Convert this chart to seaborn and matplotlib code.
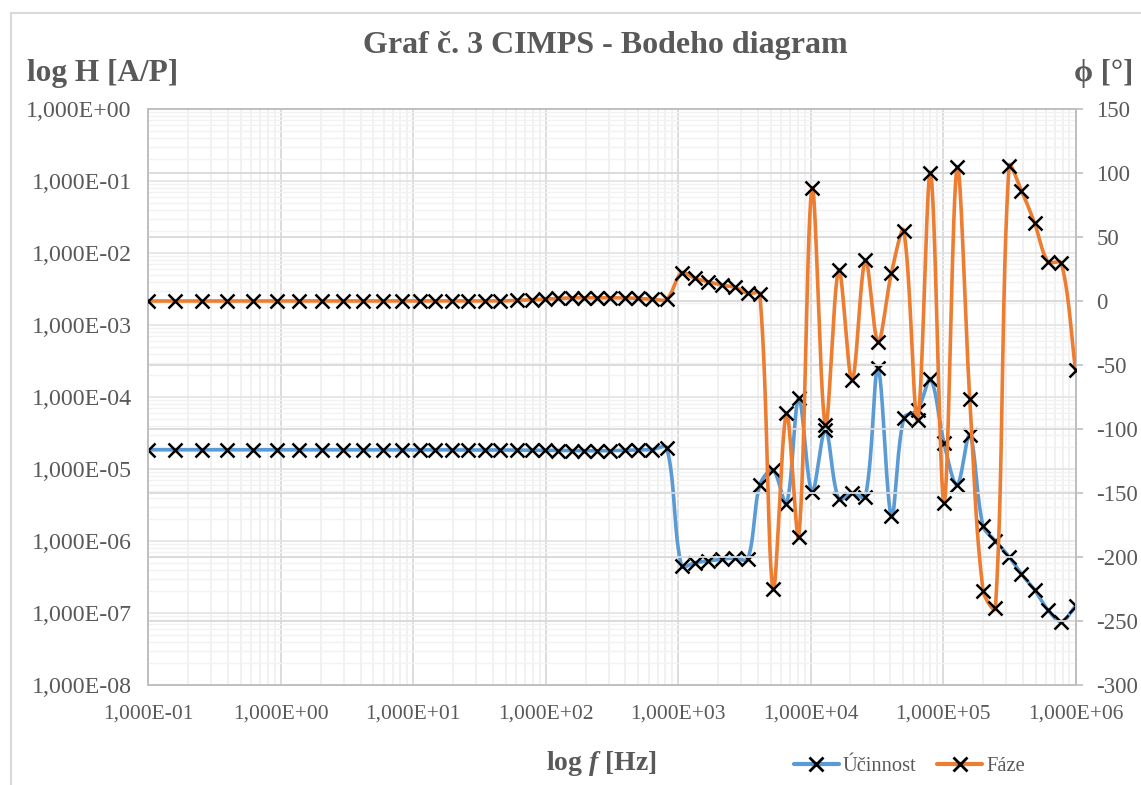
import numpy as np
import pandas as pd
import seaborn as sns
import matplotlib.pyplot as plt
from matplotlib.lines import Line2D
from matplotlib.patches import Rectangle
from matplotlib.ticker import LogLocator, FuncFormatter, MultipleLocator, NullFormatter

sns.set_style("white")
plt.rcParams['font.family'] = ['Liberation Serif', 'DejaVu Serif']
plt.rcParams['axes.unicode_minus'] = False
plt.rcParams['mathtext.fontset'] = 'custom'
plt.rcParams['mathtext.it'] = 'Liberation Serif:italic:bold'
plt.rcParams['mathtext.rm'] = 'Liberation Serif:bold'

# frequency [Hz]
freq = [0.1, 0.159, 0.254, 0.393, 0.617, 0.936, 1.37, 2.05, 2.95, 4.18,
        5.91, 8.23, 11.2, 14.6, 19.6, 25.9, 34.8, 45.1, 60.6, 78.7,
        98.6, 124, 158, 194, 244, 306, 397, 497, 631, 822,
        1061, 1337, 1683, 2126, 2677, 3357, 4138, 5210, 6577, 8140,
        10260, 12940, 16320, 20560, 25940, 32280, 40800, 50560, 64150, 80400,
        101800, 127700, 159200, 200500, 248700, 315000, 390700, 491700, 619400, 783000,
        1000000]

# Účinnost (log H) [A/P]
ucinnost = [1.85e-5, 1.85e-5, 1.85e-5, 1.85e-5, 1.85e-5, 1.85e-5, 1.85e-5, 1.85e-5, 1.85e-5, 1.85e-5,
            1.85e-5, 1.85e-5, 1.85e-5, 1.85e-5, 1.84e-5, 1.84e-5, 1.84e-5, 1.84e-5, 1.83e-5, 1.82e-5,
            1.82e-5, 1.8e-5, 1.8e-5, 1.8e-5, 1.79e-5, 1.8e-5, 1.82e-5, 1.84e-5, 1.86e-5, 1.95e-5,
            4.5e-7, 5.0e-7, 5.3e-7, 5.6e-7, 5.8e-7, 5.6e-7, 6.0e-6, 9.7e-6, 3.3e-6, 9.6e-5,
            4.8e-6, 3.5e-5, 3.8e-6, 4.6e-6, 4.1e-6, 2.5e-4, 2.2e-6, 5.1e-5, 6.6e-5, 1.76e-4,
            2.27e-5, 6.0e-6, 2.97e-5, 1.62e-6, 1.0e-6, 6.05e-7, 3.48e-7, 2.09e-7, 1.1e-7, 7.6e-8,
            1.25e-7]

# Fáze [°]
faze = [0, 0, 0, 0, 0, 0, 0, 0, 0, 0,
        0, 0, 0, 0, 0, 0, 0, 0, 0.5, 1,
        1.5, 2, 2.5, 2.5, 2.5, 2.5, 2.5, 2, 1.5, 1.5,
        22, 17.7, 15.1, 12.5, 10.7, 6, 5.5, -225, -87.7, -184,
        88, -97, 24.2, -61.7, 32, -31.8, 22.1, 54.9, -93, 100.3,
        -157.6, 104.4, -76.8, -226.3, -240, 105.5, 86.2, 60.7, 30.7, 29.5,
        -53.9]

BLUE = '#5B9BD5'
ORANGE = '#ED7D31'
GREY = '#595959'

W, H = 1141, 785
AX_L, AX_R, AX_T, AX_B = 148.3, 1075.5, 109, 685


def smooth(x, y, n=30):
    # Excel-like smoothed line: cubic Bezier, tangents scaled by segment lengths
    P = np.column_stack([x, y])
    m = len(P)
    t = np.linspace(0, 1, n, endpoint=False)[:, None]
    out = []
    for i in range(m - 1):
        p0 = P[i - 1] if i > 0 else P[i]
        p1, p2 = P[i], P[i + 1]
        p3 = P[i + 2] if i + 2 < m else P[i + 1]
        d01 = np.hypot(*(p1 - p0))
        d12 = np.hypot(*(p2 - p1))
        d23 = np.hypot(*(p3 - p2))
        c1 = p1 + (p2 - p0) * d12 / (d01 + d12) / 3
        c2 = p2 - (p3 - p1) * d12 / (d12 + d23) / 3
        seg = ((1 - t) ** 3) * p1 + 3 * ((1 - t) ** 2) * t * c1 + 3 * (1 - t) * t ** 2 * c2 + t ** 3 * p2
        out.append(seg)
    out.append(P[-1:])
    return np.vstack(out)


df = pd.DataFrame({'f': freq, 'H': ucinnost, 'phi': faze})

# screen scale of the axes (pixels per decade / per degree)
px_x = (AX_R - AX_L) / 7
px_h = (AX_B - AX_T) / 8
px_phi = (AX_B - AX_T) / 450

lf = np.log10(df['f'].values)
sb = smooth(lf * px_x, np.log10(df['H'].values) * px_h)
so = smooth(lf * px_x, df['phi'].values * px_phi)
blue_curve = pd.DataFrame({'f': 10 ** (sb[:, 0] / px_x), 'H': 10 ** (sb[:, 1] / px_h)})
orange_curve = pd.DataFrame({'f': 10 ** (so[:, 0] / px_x), 'phi': so[:, 1] / px_phi})

fig = plt.figure(figsize=(W / 100, H / 100), dpi=100)
ax = fig.add_axes([AX_L / W, 1 - AX_B / H, (AX_R - AX_L) / W, (AX_B - AX_T) / H])
ax2 = ax.twinx()

# chart area border
fig.patches.append(Rectangle((10.5 / W, -0.02), 1.05, 1 - 13 / H + 0.02, transform=fig.transFigure,
                             fill=False, edgecolor='#d9d9d9', lw=1.5))

sns.lineplot(data=blue_curve, x='f', y='H', ax=ax, sort=False, estimator=None,
             color=BLUE, lw=2.6, zorder=3)
ax.plot(df['f'], df['H'], ls='none', marker='x', ms=10, mew=1.8, color='black', zorder=4)

sns.lineplot(data=orange_curve, x='f', y='phi', ax=ax2, sort=False, estimator=None,
             color=ORANGE, lw=2.6, zorder=3)
ax2.plot(df['f'], df['phi'], ls='none', marker='x', ms=10, mew=1.8, color='black', zorder=4)

ax.set_xscale('log')
ax.set_yscale('log')
ax.set_xlim(0.1, 1e6)
ax.set_ylim(1e-8, 1)
ax2.set_ylim(-300, 150)

sci = FuncFormatter(lambda v, p: f"{v:.3E}".replace('.', ','))
for axis in (ax.xaxis, ax.yaxis):
    axis.set_major_locator(LogLocator(base=10, numticks=20))
    axis.set_minor_locator(LogLocator(base=10, subs=np.arange(2, 10), numticks=20))
    axis.set_major_formatter(sci)
    axis.set_minor_formatter(NullFormatter())
ax2.yaxis.set_major_locator(MultipleLocator(50))

ax.grid(True, which='major', axis='x', color='#d9d9d9', lw=1.3)
ax.grid(True, which='minor', axis='x', color='#eeeeee', lw=1.1)
ax.grid(True, which='major', axis='y', color='#e3e3e3', lw=1.2)
ax.grid(True, which='minor', axis='y', color='#f2f2f2', lw=1.0)
ax2.grid(True, which='major', axis='y', color='#d9d9d9', lw=1.3)
ax2.set_axisbelow(True)
ax.set_axisbelow(True)

ax.tick_params(axis='y', which='both', length=0, pad=12, labelsize=17.2, labelcolor=GREY)
ax.tick_params(axis='x', which='both', length=0, pad=14, labelsize=15.5, labelcolor=GREY)
ax2.tick_params(axis='y', which='major', length=5, width=1.2, color='#bfbfbf', pad=10,
                labelsize=16.5, labelcolor=GREY)
ax.set_xlabel('')
ax.set_ylabel('')
ax2.set_ylabel('')
for a in (ax, ax2):
    for s in a.spines.values():
        s.set_color('#bfbfbf')
        s.set_linewidth(1.3)

fig.text(605 / W, 1 - 45 / H, 'Graf č. 3 CIMPS - Bodeho diagram', ha='center', va='center',
         fontsize=23, fontweight='bold', color=GREY)
fig.text(27 / W, 1 - 73 / H, 'log H [A/P]', ha='left', va='center',
         fontsize=22.5, fontweight='bold', color=GREY)
fig.text(1133 / W, 1 - 73 / H, 'ϕ [°]', ha='right', va='center',
         fontsize=22, fontweight='bold', color=GREY)
fig.text(601 / W, 1 - 764 / H, r'log $\mathit{f}$ [Hz]', ha='center', va='center',
         fontsize=20, fontweight='bold', color=GREY)

handles = [Line2D([], [], color=BLUE, lw=3, marker='x', ms=10, mew=2, mec='black'),
           Line2D([], [], color=ORANGE, lw=3, marker='x', ms=10, mew=2, mec='black')]
leg = fig.legend(handles, ['Účinnost', 'Fáze'], loc='center left', ncol=2,
                 bbox_to_anchor=(775 / W, 1 - 766 / H), frameon=False, fontsize=14.8,
                 handlelength=2.2, handletextpad=0.2, columnspacing=1.0)
for t in leg.get_texts():
    t.set_color(GREY)

fig.savefig('out.png', dpi=100)
